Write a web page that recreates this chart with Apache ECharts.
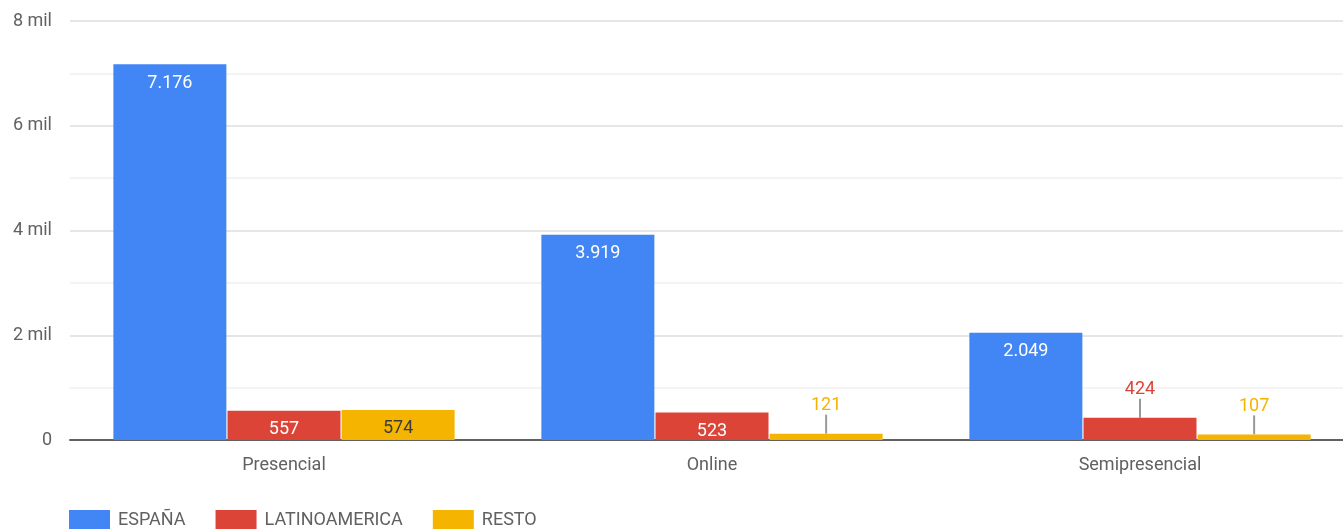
<!DOCTYPE html>
<html>
<head>
<meta charset="utf-8">
<script src="https://cdn.jsdelivr.net/npm/echarts@6/dist/echarts.min.js"></script>
<style>
  html, body { margin: 0; padding: 0; background: #fff; }
  #chart { width: 1343px; height: 529px; }
</style>
</head>
<body>
<div id="chart"></div>
<script>
const categories = ['Presencial', 'Online', 'Semipresencial'];
const seriesNames = ['ESPAÑA', 'LATINOAMERICA', 'RESTO'];
const espana = [7176, 3919, 2049];
const latinoamerica = [557, 523, 424];
const resto = [574, 121, 107];
const yTicks = [0, 2000, 4000, 6000, 8000];

const colors = ['#4285F4', '#DB4437', '#F4B400'];
const insideText = ['#ffffff', '#ffffff', '#3c3c3c'];
const FONT = 'Roboto, sans-serif';

// separador de miles con punto
function fmt(v) {
  return String(v).replace(/\B(?=(\d{3})+(?!\d))/g, '.');
}

// barras pequeñas: etiqueta arriba con línea guía
const SMALL = 450;

function makeSeries(name, values, i) {
  return {
    name: name,
    type: 'bar',
    barWidth: 113,
    barGap: '1%',
    itemStyle: { color: colors[i] },
    data: values.map((v) => {
      const small = v < SMALL;
      return {
        value: v,
        label: small
          ? { position: 'top', distance: 0, color: colors[i] }
          : { position: 'insideTop', distance: 10, color: insideText[i] },
        labelLine: { show: small, lineStyle: { color: '#999', width: 2 } },
      };
    }),
    label: {
      show: true,
      fontFamily: FONT,
      fontSize: 18,
      formatter: (p) => fmt(p.value),
    },
    labelLayout: (p) => {
      const v = values[p.dataIndex];
      return v < SMALL ? { dy: -19 } : {};
    },
  };
}

const chart = echarts.init(document.getElementById('chart'));
chart.setOption({
  animation: false,
  textStyle: { fontFamily: FONT },
  grid: { left: 70, top: 21, width: 1284, height: 419, outerBoundsMode: 'none', containLabel: false },
  legend: {
    left: 69,
    top: 510,
    padding: 0,
    itemWidth: 41,
    itemHeight: 20,
    itemGap: 30,
    icon: 'rect',
    textStyle: { fontFamily: FONT, fontSize: 18, color: '#616161', padding: [0, 0, 0, 3] },
    data: seriesNames,
  },
  xAxis: {
    type: 'category',
    data: categories,
    axisLine: { lineStyle: { color: '#616161', width: 2 } },
    axisTick: { show: false },
    axisLabel: { fontFamily: FONT, fontSize: 18, color: '#616161', margin: 16 },
  },
  yAxis: {
    type: 'value',
    min: yTicks[0],
    max: yTicks[yTicks.length - 1],
    interval: 2000,
    axisLine: { show: false },
    axisTick: { show: false },
    axisLabel: {
      fontFamily: FONT,
      fontSize: 18,
      color: '#616161',
      margin: 18,
      formatter: (v) => (v === 0 ? '0' : v / 1000 + ' mil'),
    },
    splitLine: { lineStyle: { color: '#e6e6e6', width: 2 } },
    minorTick: { show: false, splitNumber: 2 },
    minorSplitLine: { show: true, lineStyle: { color: '#f3f3f3', width: 2 } },
  },
  series: [
    makeSeries(seriesNames[0], espana, 0),
    makeSeries(seriesNames[1], latinoamerica, 1),
    makeSeries(seriesNames[2], resto, 2),
  ],
});
</script>
</body>
</html>
